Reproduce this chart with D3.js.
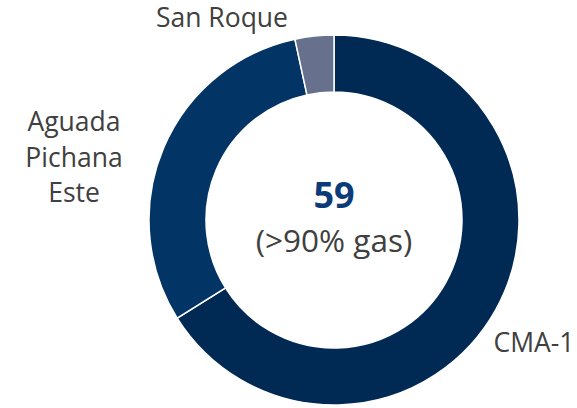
<!DOCTYPE html>
<html>
<body>
    <style>
        body, html {
            margin: 0;
            padding: 0;
            background: #fff;
            overflow: hidden;
        }
        text {
            font-family: "Open Sans", sans-serif;
        }
    </style>

    <svg width="577" height="408"></svg>

    <script src="https://d3js.org/d3.v7.min.js"></script>

    <script>
        var fields = ["CMA-1", "Aguada Pichana Este", "San Roque"];
        var wells = [39, 18, 2];
        var colors = ["#002953", "#023466", "#67718d"];
        var total = "59";
        var subtitle = "(>90% gas)";

        var width = 577;
        var height = 408;
        var cx = 334, cy = 220;
        var outer = 185, inner = 128;

        var svg = d3.select("svg");
        var g = svg.append("g").attr("transform", "translate(" + cx + "," + cy + ")");

        var pie = d3.pie().sort(null).value(function(d) { return d; });
        var arc = d3.arc().innerRadius(inner).outerRadius(outer);

        var color = d3.scaleOrdinal().domain(fields).range(colors);

        // SLICES
        g.selectAll("path")
            .data(pie(wells))
            .enter().append("path")
            .attr("d", arc)
            .attr("fill", function(d, i) { return color(fields[i]); })
            .attr("stroke", "#fff")
            .attr("stroke-width", 1.5);

        // CENTER
        g.append("text")
            .attr("x", 0).attr("y", -12)
            .attr("text-anchor", "middle")
            .attr("font-size", 36)
            .attr("font-weight", "bold")
            .attr("fill", "#0b3b78")
            .text(total);

        g.append("text")
            .attr("x", 0).attr("y", 32)
            .attr("text-anchor", "middle")
            .attr("font-size", 31.5)
            .attr("fill", "#404040")
            .text(subtitle);

        // LABELS
        var labelPos = [
            { x: 534, y: 352, lines: ["CMA-1"] },
            { x: 74, y: 131, lines: ["Aguada", "Pichana", "Este"] },
            { x: 222, y: 27, lines: ["San Roque"] }
        ];

        labelPos.forEach(function(p, i) {
            var t = svg.append("text")
                .attr("text-anchor", "middle")
                .attr("font-size", 26.5)
                .attr("fill", "#404040")
                .attr("data-field", fields[i]);
            p.lines.forEach(function(line, j) {
                t.append("tspan")
                    .attr("x", p.x)
                    .attr("y", p.y + j * 35.5)
                    .text(line);
            });
        });
    </script>
</body>
</html>
